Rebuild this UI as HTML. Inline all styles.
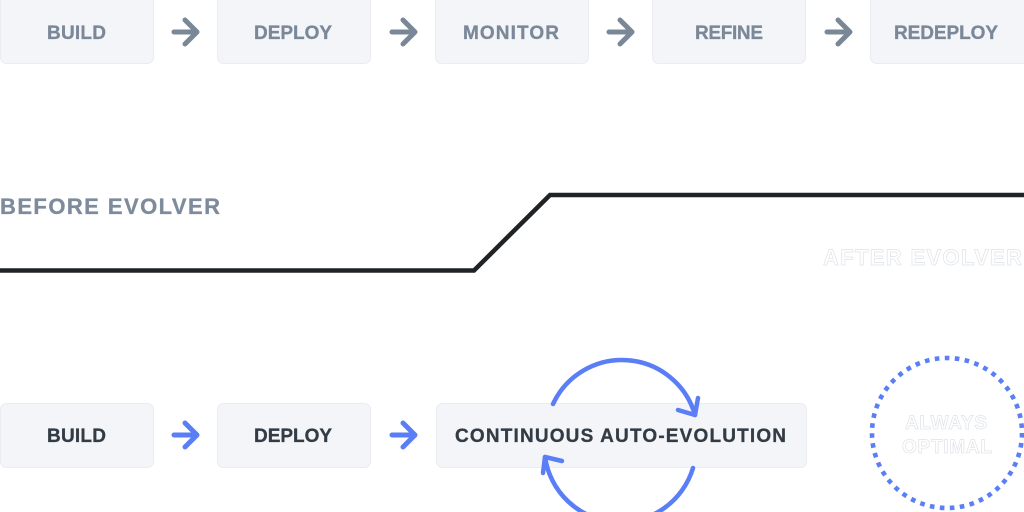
<!DOCTYPE html>
<html>
<head>
<meta charset="utf-8">
<style>
  html, body { margin: 0; padding: 0; background: #ffffff; }
  body { width: 1024px; height: 512px; overflow: hidden; }
  svg { display: block; }
  text { font-family: "Liberation Sans", "DejaVu Sans", sans-serif; font-weight: bold; }
</style>
</head>
<body>
<svg width="1024" height="512" viewBox="0 0 1024 512" xmlns="http://www.w3.org/2000/svg">
  <!-- Top row boxes -->
  <g fill="#f3f5f9" stroke="#eaecf1" stroke-width="1">
    <rect x="0.5" y="-6" width="153" height="69.5" rx="6"/>
    <rect x="217.5" y="-6" width="153" height="69.5" rx="6"/>
    <rect x="435.5" y="-6" width="153" height="69.5" rx="6"/>
    <rect x="652.5" y="-6" width="153" height="69.5" rx="6"/>
    <rect x="870.5" y="-6" width="160" height="69.5" rx="6"/>
  </g>
  <g fill="#7a8898" stroke="#7a8898" stroke-width="0.3" font-size="19">
    <text x="47" y="39" textLength="59" lengthAdjust="spacing">BUILD</text>
    <text x="254" y="39" textLength="78" lengthAdjust="spacing">DEPLOY</text>
    <text x="463" y="39" textLength="96" lengthAdjust="spacing">MONITOR</text>
    <text x="695" y="39" textLength="68" lengthAdjust="spacing">REFINE</text>
    <text x="894" y="39" textLength="104" lengthAdjust="spacing">REDEPLOY</text>
  </g>
  <!-- Top gray arrows -->
  <g fill="none" stroke="#7a8797" stroke-width="5" stroke-linecap="round" stroke-linejoin="round">
    <path d="M174 32 H196 M185 20 L197 32 L185 44"/>
    <path d="M392 32 H414 M403 20 L415 32 L403 44"/>
    <path d="M609 32 H631 M620 20 L632 32 L620 44"/>
    <path d="M827 32 H849 M838 20 L850 32 L838 44"/>
  </g>

  <!-- Middle: before/after -->
  <text x="0" y="214" font-size="22" fill="#7d8b9c" stroke="#7d8b9c" stroke-width="0.3" textLength="220" lengthAdjust="spacing">BEFORE EVOLVER</text>
  <polyline points="0,270.5 474,270.5 550,195 1024,195" fill="none" stroke="#1f2326" stroke-width="4.5" stroke-linejoin="miter"/>
  <text x="823" y="265" font-size="22" fill="#ffffff" stroke="#dfe3e8" stroke-width="0.7" textLength="199" lengthAdjust="spacing">AFTER EVOLVER</text>

  <!-- Bottom row boxes -->
  <g fill="#f3f5f9" stroke="#eaecf1" stroke-width="1">
    <rect x="0.5" y="403.5" width="153" height="64" rx="6"/>
    <rect x="217.5" y="403.5" width="153" height="64" rx="6"/>
    <rect x="436.5" y="403.5" width="370" height="64" rx="6"/>
  </g>
  <g fill="#333c45" stroke="#333c45" stroke-width="0.3" font-size="19">
    <text x="47" y="442" textLength="59" lengthAdjust="spacing">BUILD</text>
    <text x="254" y="442" textLength="78" lengthAdjust="spacing">DEPLOY</text>
    <text x="455" y="442" textLength="331" lengthAdjust="spacing">CONTINUOUS AUTO-EVOLUTION</text>
  </g>
  <!-- Bottom blue arrows -->
  <g fill="none" stroke="#5a7ef6" stroke-width="5" stroke-linecap="round" stroke-linejoin="round">
    <path d="M174 435 H196 M185 423 L197 435 L185 447"/>
    <path d="M392 435 H414 M403 423 L415 435 L403 447"/>
  </g>
  <!-- Circular arrows -->
  <g fill="none" stroke="#5a7ef6" stroke-width="4.5" stroke-linecap="round" stroke-linejoin="round">
    <path d="M553 404 A 76 76 0 0 1 695 415"/>
    <polyline points="678,410 695,415 698,398"/>
    <path d="M693 468 A 76 76 0 0 1 545 457"/>
    <polyline points="562,461 545,457 543,473"/>
  </g>

  <!-- Always optimal dotted circle -->
  <circle cx="947" cy="433" r="75" fill="none" stroke="#5a7ef6" stroke-width="4.6" stroke-dasharray="4.6 5.43"/>
  <g font-size="19" fill="#ffffff" stroke="#dfe3e8" stroke-width="0.7">
    <text x="905" y="429" textLength="82" lengthAdjust="spacing">ALWAYS</text>
    <text x="902" y="453" textLength="90" lengthAdjust="spacing">OPTIMAL</text>
  </g>
</svg>
</body>
</html>
